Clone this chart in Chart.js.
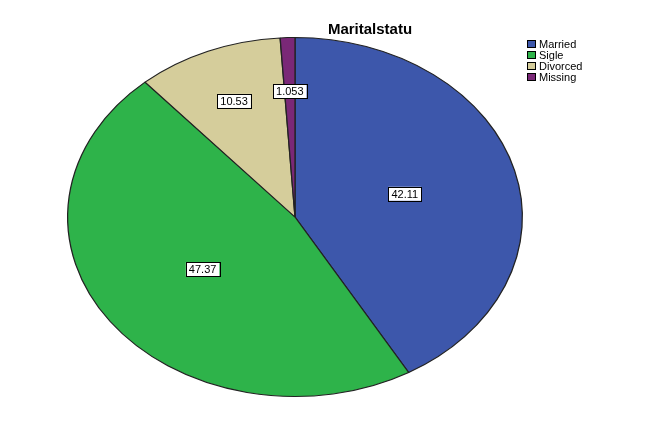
<!DOCTYPE html>
<html><head><meta charset="utf-8">
<script src="https://cdn.jsdelivr.net/npm/chart.js@4"></script>
<style>html,body{margin:0;padding:0;background:#fff}#w{width:657px;height:428px}</style>
</head><body><div id="w"><canvas id="c" width="657" height="428"></canvas></div>
<script>
const categories = ["Married", "Sigle", "Divorced", "Missing"];
const values = [42.11, 47.37, 10.53, 1.053];
const valueLabels = ["42.11", "47.37", "10.53", "1.053"];
const colors = ["#3d57ab", "#2eb34a", "#d5cd9b", "#7a2877"];
const chartTitle = "Maritalstatu";

const SX = 228/180;
const stretch = {
  id:'stretch',
  beforeDatasetsDraw(chart){
    const a = chart.getDatasetMeta(0).data[0];
    const ctx = chart.ctx; ctx.save();
    ctx.translate(a.x, a.y); ctx.scale(SX,1); ctx.translate(-a.x,-a.y);
  },
  afterDatasetsDraw(chart){
    const ctx = chart.ctx; ctx.restore();
    const meta = chart.getDatasetMeta(0);
    ctx.save();
    ctx.font = '11px Arial, "Liberation Sans", sans-serif';
    ctx.textAlign='center'; ctx.textBaseline='middle';
    meta.data.forEach((el,i)=>{
      const p = el.getProps(['x','y','startAngle','endAngle','outerRadius']);
      const mid = (p.startAngle+p.endAngle)/2;
      const f = values[i] < 15 ? 0.7 : 0.5;
      const x = p.x + Math.cos(mid)*p.outerRadius*f*SX;
      const y = p.y + Math.sin(mid)*p.outerRadius*f;
      const t = valueLabels[i];
      const w = ctx.measureText(t).width + 6, h = 14;
      ctx.fillStyle='#fff'; ctx.fillRect(x-w/2,y-h/2,w,h);
      ctx.strokeStyle='#000'; ctx.lineWidth=1; ctx.strokeRect(Math.round(x-w/2)+0.5,Math.round(y-h/2)+0.5,Math.round(w),h);
      ctx.fillStyle='#000'; ctx.fillText(t,x,y+1);
    });
    // title
    ctx.font='bold 15px Arial, "Liberation Sans", sans-serif';
    ctx.fillText(chartTitle, 370, 30);
    // legend
    ctx.font='11px Arial, "Liberation Sans", sans-serif';
    ctx.textAlign='left';
    categories.forEach((c,i)=>{
      const y = 40 + i*11;
      ctx.fillStyle=colors[i]; ctx.fillRect(527,y,9,8);
      ctx.strokeStyle='#000'; ctx.strokeRect(527.5,y+0.5,8,7);
      ctx.fillStyle='#000'; ctx.fillText(c,539,y+4.5);
    });
    ctx.restore();
  }
};

new Chart(document.getElementById('c'), {
  type:'pie',
  data:{labels:categories, datasets:[{data:values, backgroundColor:colors, borderColor:'#222', borderWidth:1}]},
  options:{
    responsive:false, animation:false,
    layout:{padding:{left:115,right:182,top:37,bottom:31}},
    plugins:{legend:{display:false}, title:{display:false}, tooltip:{enabled:false}}
  },
  plugins:[stretch]
});
</script></body></html>
